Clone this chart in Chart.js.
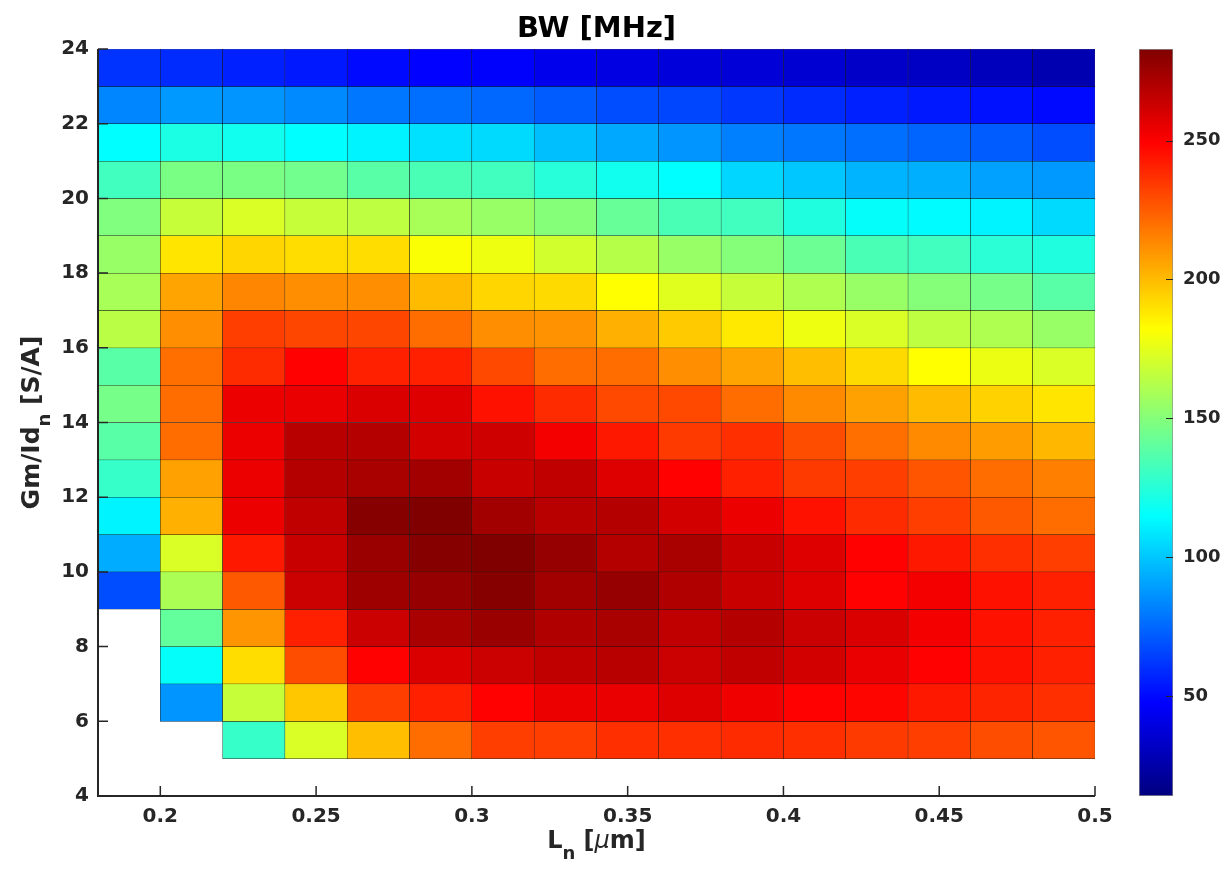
<!DOCTYPE html>
<html>
<head>
<meta charset="utf-8">
<title>BW [MHz]</title>
<script src="https://cdn.jsdelivr.net/npm/chart.js@4.4.1/dist/chart.umd.min.js"></script>
<style>
  html, body { margin: 0; padding: 0; background: #fff; }
  #wrap { position: relative; width: 1230px; height: 871px; }
  #wrap canvas { position: absolute; top: 0; }
  #bwChart { left: 0; }
  #barChart { left: 1100px; }
</style>
</head>
<body>
<div id="wrap">
  <canvas id="bwChart" width="1230" height="871"></canvas>
  <canvas id="barChart" width="130" height="871"></canvas>
</div>
<script>
// cell edges along L (um)
const lnEdges = [0.18, 0.20, 0.22, 0.24, 0.26, 0.28, 0.30, 0.32, 0.34, 0.36, 0.38, 0.40, 0.42, 0.44, 0.46, 0.48, 0.50];
// lower edge of each Gm/Id row (S/A), top row first
const gmRows = [23, 22, 21, 20, 19, 18, 17, 16, 15, 14, 13, 12, 11, 10, 9, 8, 7, 6, 5];
// BW in MHz, one line per row above, one entry per L cell (null = not simulated)
const bwRows = [
  [61, 59, 56, 54, 50, 48, 47, 43, 40, 38, 37, 36, 33, 32, 30, 27],
  [83, 88, 87, 84, 79, 77, 75, 72, 68, 66, 62, 59, 56, 54, 52, 50],
  [115, 122, 119, 115, 112, 107, 105, 98, 92, 87, 81, 79, 77, 74, 72, 68],
  [132, 147, 147, 145, 138, 134, 132, 125, 119, 115, 104, 100, 95, 94, 90, 88],
  [149, 167, 172, 167, 165, 159, 155, 150, 142, 134, 132, 123, 116, 114, 112, 105],
  [155, 189, 193, 191, 191, 181, 178, 170, 163, 155, 150, 143, 134, 132, 126, 123],
  [159, 206, 214, 212, 212, 200, 193, 192, 182, 174, 167, 161, 155, 150, 146, 138],
  [164, 212, 233, 231, 231, 221, 212, 211, 203, 196, 188, 178, 172, 165, 161, 155],
  [138, 220, 238, 249, 241, 241, 230, 221, 221, 212, 206, 199, 192, 182, 177, 172],
  [146, 221, 254, 255, 259, 258, 245, 238, 230, 230, 221, 213, 207, 200, 194, 189],
  [138, 221, 254, 268, 269, 261, 262, 252, 243, 234, 237, 229, 220, 213, 208, 201],
  [129, 207, 254, 269, 272, 274, 264, 266, 258, 249, 241, 234, 233, 227, 221, 216],
  [112, 203, 254, 266, 281, 283, 274, 268, 269, 261, 254, 245, 238, 233, 226, 221],
  [93, 172, 243, 264, 276, 281, 283, 277, 269, 272, 264, 258, 249, 243, 237, 233],
  [68, 160, 226, 263, 275, 277, 281, 274, 277, 270, 264, 258, 249, 252, 245, 241],
  [null, 141, 210, 241, 263, 272, 276, 270, 272, 266, 269, 263, 259, 252, 245, 241],
  [null, 116, 191, 229, 249, 259, 263, 266, 268, 263, 266, 261, 255, 249, 245, 241],
  [null, 87, 167, 197, 233, 241, 249, 254, 255, 258, 253, 249, 248, 243, 240, 237],
  [null, null, 129, 172, 199, 221, 233, 233, 237, 237, 238, 237, 234, 233, 229, 227]
];
const lnTicks = [0.2, 0.25, 0.3, 0.35, 0.4, 0.45, 0.5];
const gmTicks = [4, 6, 8, 10, 12, 14, 16, 18, 20, 22, 24];
const bwTicks = [50, 100, 150, 200, 250];
const bwMin = 14;
const bwMax = 283;

const FONT = "'DejaVu Sans', sans-serif";
const AXIS_COLOR = '#262626';

// jet colormap, same breakpoints as the colorbar gradient
const jetStops = [
  [0, 'rgb(0,0,128)'],
  [0.125, 'rgb(0,0,255)'],
  [0.375, 'rgb(0,255,255)'],
  [0.625, 'rgb(255,255,0)'],
  [0.875, 'rgb(255,0,0)'],
  [1, 'rgb(128,0,0)']
];

function jet(v) {
  const t = Math.min(1, Math.max(0, (v - bwMin) / (bwMax - bwMin)));
  const ch = c => Math.round(255 * Math.min(1, Math.max(0, 1.5 - Math.abs(4 * t - c))));
  return `rgb(${ch(3)},${ch(2)},${ch(1)})`;
}

// one floating-bar dataset per row, bars overlap at the same x (grouped: false)
const datasets = gmRows.map((lo, i) => ({
  data: bwRows[i]
    .map((bw, j) => bw == null ? null : { x: (lnEdges[j] + lnEdges[j + 1]) / 2, y: [lo, lo + 1], bw: bw })
    .filter(d => d),
  backgroundColor: ctx => ctx.raw ? jet(ctx.raw.bw) : '#fff',
  borderColor: 'rgba(0,0,0,0.85)',
  borderWidth: 0.5,
  borderSkipped: false,
  grouped: false,
  barPercentage: 1,
  categoryPercentage: 1
}));

// draws text with a subscript piece, centred on (0,0) of the current transform
function drawLabel(ctx, parts, size) {
  const fonts = {
    main: `bold ${size}px ${FONT}`,
    sub: `bold ${Math.round(size * 0.73)}px ${FONT}`,
    greek: `italic ${size}px ${FONT}`
  };
  let total = 0;
  parts.forEach(p => { ctx.font = fonts[p.f]; p.w = ctx.measureText(p.t).width; total += p.w; });
  let xPos = -total / 2;
  ctx.textAlign = 'left';
  ctx.textBaseline = 'alphabetic';
  parts.forEach(p => {
    ctx.font = fonts[p.f];
    ctx.fillText(p.t, xPos, p.f === 'sub' ? size * 0.45 : 0);
    xPos += p.w;
  });
}

const axesBox = {
  id: 'axesBox',
  afterDatasetsDraw(chart) {
    const { ctx, chartArea: a, scales: { x, y } } = chart;
    ctx.save();
    ctx.strokeStyle = AXIS_COLOR;
    ctx.lineWidth = 2;
    ctx.beginPath();
    ctx.moveTo(a.left, a.top);
    ctx.lineTo(a.left, a.bottom);
    ctx.lineTo(a.right, a.bottom);
    ctx.stroke();
    ctx.lineWidth = 1.5;
    ctx.beginPath();
    lnTicks.forEach(v => {
      const px = x.getPixelForValue(v);
      ctx.moveTo(px, a.bottom);
      ctx.lineTo(px, a.bottom - 10);
    });
    gmTicks.forEach(v => {
      const py = y.getPixelForValue(v);
      ctx.moveTo(a.left, py);
      ctx.lineTo(a.left + 10, py);
    });
    ctx.stroke();
    ctx.restore();
  },
  afterDraw(chart) {
    const { ctx, chartArea: a } = chart;
    const midX = (a.left + a.right) / 2;

    // title, centred over the plot area
    ctx.save();
    ctx.fillStyle = '#000';
    ctx.font = `bold 29px ${FONT}`;
    ctx.textAlign = 'center';
    ctx.textBaseline = 'alphabetic';
    ctx.fillText('BW [MHz]', midX, 37);
    ctx.restore();

    ctx.save();
    ctx.fillStyle = AXIS_COLOR;
    ctx.translate(midX, 848);
    drawLabel(ctx, [
      { t: 'L', f: 'main' }, { t: 'n', f: 'sub' }, { t: ' [', f: 'main' },
      { t: 'μ', f: 'greek' }, { t: 'm]', f: 'main' }
    ], 24);
    ctx.restore();

    ctx.save();
    ctx.fillStyle = AXIS_COLOR;
    ctx.translate(39, (a.top + a.bottom) / 2);
    ctx.rotate(-Math.PI / 2);
    drawLabel(ctx, [
      { t: 'Gm/Id', f: 'main' }, { t: 'n', f: 'sub' }, { t: ' [S/A]', f: 'main' }
    ], 25);
    ctx.restore();
  }
};

new Chart(document.getElementById('bwChart'), {
  type: 'bar',
  data: { datasets: datasets },
  plugins: [axesBox],
  options: {
    responsive: false,
    animation: false,
    events: [],
    layout: { padding: { left: 0, right: 135, top: 49, bottom: 0 } },
    plugins: {
      legend: { display: false },
      tooltip: { enabled: false },
      title: { display: false }
    },
    scales: {
      x: {
        type: 'linear',
        min: 0.18,
        max: 0.5,
        offset: false,
        grid: { display: false, drawTicks: false, offset: false },
        border: { display: false },
        afterBuildTicks: s => { s.ticks = lnTicks.map(value => ({ value })); },
        afterFit: s => { s.height = 75; },
        ticks: {
          callback: v => String(v),
          color: AXIS_COLOR,
          font: { family: FONT, size: 20, weight: 'bold' },
          padding: 9,
          maxRotation: 0,
          autoSkip: false
        }
      },
      y: {
        type: 'linear',
        min: 4,
        max: 24,
        grid: { display: false, drawTicks: false },
        border: { display: false },
        afterBuildTicks: s => { s.ticks = gmTicks.map(value => ({ value })); },
        afterFit: s => { s.width = 98; },
        ticks: {
          color: AXIS_COLOR,
          font: { family: FONT, size: 20, weight: 'bold' },
          padding: 9,
          autoSkip: false
        }
      }
    }
  }
});

// colorbar: a single floating bar from bwMin to bwMax filled with the jet gradient
const colorbarTicks = {
  id: 'colorbarTicks',
  afterDatasetsDraw(chart) {
    const { ctx, chartArea: a, scales: { y } } = chart;
    ctx.save();
    ctx.strokeStyle = AXIS_COLOR;
    ctx.lineWidth = 1;
    ctx.beginPath();
    bwTicks.forEach(v => {
      const py = Math.round(y.getPixelForValue(v)) + 0.5;
      ctx.moveTo(a.right - 7, py);
      ctx.lineTo(a.right, py);
    });
    ctx.stroke();
    ctx.restore();
  }
};

new Chart(document.getElementById('barChart'), {
  type: 'bar',
  data: {
    labels: [''],
    datasets: [{
      data: [[bwMin, bwMax]],
      backgroundColor: ctx => {
        const a = ctx.chart.chartArea;
        if (!a) return 'rgba(0,0,0,0)';
        const g = ctx.chart.ctx.createLinearGradient(0, a.bottom, 0, a.top);
        jetStops.forEach(([pos, col]) => g.addColorStop(pos, col));
        return g;
      },
      borderColor: '#8c8c8c',
      borderWidth: 1,
      borderSkipped: false,
      barPercentage: 1,
      categoryPercentage: 1
    }]
  },
  plugins: [colorbarTicks],
  options: {
    responsive: false,
    animation: false,
    events: [],
    layout: { padding: { left: 39, right: 0, top: 49, bottom: 75 } },
    plugins: { legend: { display: false }, tooltip: { enabled: false } },
    scales: {
      x: { display: false },
      y: {
        position: 'right',
        min: bwMin,
        max: bwMax,
        grid: { display: false, drawTicks: false },
        border: { display: false },
        afterBuildTicks: s => { s.ticks = bwTicks.map(value => ({ value })); },
        afterFit: s => { s.width = 57; },
        ticks: {
          color: AXIS_COLOR,
          font: { family: FONT, size: 18, weight: 'bold' },
          padding: 10,
          autoSkip: false
        }
      }
    }
  }
});
</script>
</body>
</html>
